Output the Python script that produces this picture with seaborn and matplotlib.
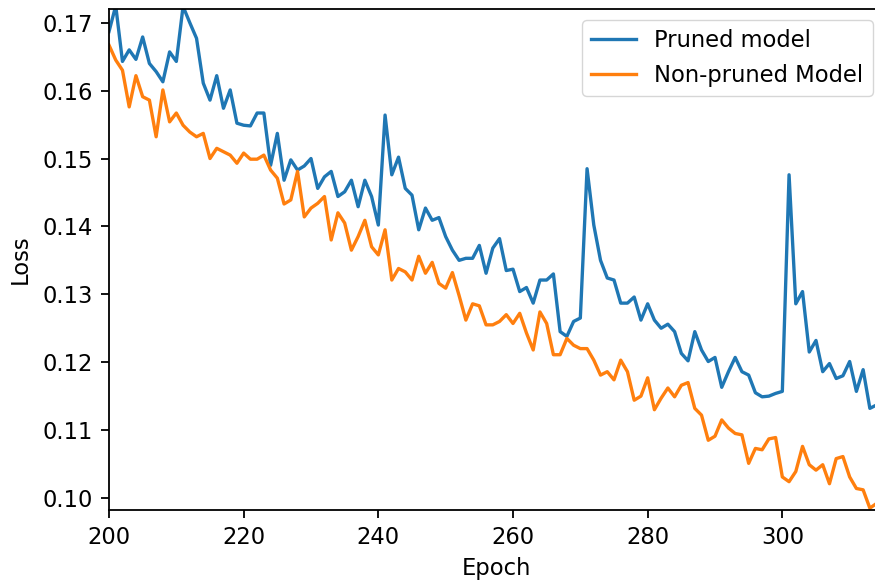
import numpy as np
import pandas as pd
import matplotlib
matplotlib.use("Agg")
import matplotlib.pyplot as plt
import seaborn as sns

# Loss per epoch, epochs 200..314
epochs = list(range(200, 315))

pruned_loss = [
    0.1687, 0.1725, 0.1643, 0.1660, 0.1646, 0.1679, 0.1640, 0.1628, 0.1613, 0.1657,
    0.1643, 0.1724, 0.1700, 0.1677, 0.1611, 0.1586, 0.1622, 0.1574, 0.1601, 0.1552,
    0.1549, 0.1548, 0.1567, 0.1567, 0.1490, 0.1537, 0.1468, 0.1498, 0.1483, 0.1489,
    0.1500, 0.1456, 0.1473, 0.1481, 0.1444, 0.1451, 0.1468, 0.1429, 0.1468, 0.1444,
    0.1402, 0.1564, 0.1476, 0.1502, 0.1456, 0.1446, 0.1395, 0.1427, 0.1409, 0.1413,
    0.1385, 0.1365, 0.1350, 0.1353, 0.1353, 0.1372, 0.1331, 0.1368, 0.1382, 0.1335,
    0.1337, 0.1304, 0.1310, 0.1287, 0.1321, 0.1321, 0.1330, 0.1245, 0.1238, 0.1260,
    0.1265, 0.1485, 0.1402, 0.1350, 0.1324, 0.1321, 0.1287, 0.1287, 0.1296, 0.1262,
    0.1286, 0.1262, 0.1250, 0.1256, 0.1245, 0.1213, 0.1202, 0.1245, 0.1218, 0.1201,
    0.1207, 0.1163, 0.1186, 0.1207, 0.1186, 0.1181, 0.1155, 0.1149, 0.1150, 0.1154,
    0.1157, 0.1476, 0.1286, 0.1304, 0.1215, 0.1232, 0.1186, 0.1198, 0.1176, 0.1180,
    0.1201, 0.1157, 0.1189, 0.1132, 0.1137,
]

baseline_loss = [
    0.1667, 0.1645, 0.1630, 0.1576, 0.1622, 0.1591, 0.1586, 0.1532, 0.1601, 0.1554,
    0.1567, 0.1549, 0.1539, 0.1532, 0.1537, 0.1500, 0.1515, 0.1510, 0.1505, 0.1493,
    0.1508, 0.1499, 0.1499, 0.1505, 0.1483, 0.1471, 0.1433, 0.1439, 0.1481, 0.1414,
    0.1427, 0.1434, 0.1444, 0.1380, 0.1420, 0.1405, 0.1365, 0.1385, 0.1409, 0.1370,
    0.1358, 0.1395, 0.1321, 0.1338, 0.1333, 0.1321, 0.1356, 0.1331, 0.1347, 0.1316,
    0.1309, 0.1332, 0.1298, 0.1262, 0.1286, 0.1283, 0.1255, 0.1255, 0.1260, 0.1270,
    0.1257, 0.1272, 0.1243, 0.1218, 0.1274, 0.1257, 0.1211, 0.1211, 0.1235, 0.1225,
    0.1220, 0.1220, 0.1203, 0.1181, 0.1186, 0.1174, 0.1203, 0.1186, 0.1144, 0.1150,
    0.1177, 0.1130, 0.1147, 0.1162, 0.1149, 0.1166, 0.1170, 0.1132, 0.1122, 0.1085,
    0.1091, 0.1115, 0.1103, 0.1095, 0.1093, 0.1051, 0.1073, 0.1071, 0.1087, 0.1089,
    0.1031, 0.1024, 0.1039, 0.1076, 0.1049, 0.1041, 0.1049, 0.1021, 0.1058, 0.1061,
    0.1031, 0.1014, 0.1012, 0.0985, 0.0992,
]

series_labels = ["Pruned model", "Non-pruned Model"]
series_colors = ["#1f77b4", "#ff7f0e"]
y_ticks = [0.10, 0.11, 0.12, 0.13, 0.14, 0.15, 0.16, 0.17]
x_ticks = [200, 220, 240, 260, 280, 300]

df = pd.DataFrame({
    "Epoch": epochs * 2,
    "Loss": pruned_loss + baseline_loss,
    "model": [series_labels[0]] * len(epochs) + [series_labels[1]] * len(epochs),
})

FS = 16.3
plt.rcParams.update({
    "font.family": "DejaVu Sans",
    "font.size": FS,
    "axes.linewidth": 1.3,
    "xtick.major.size": 5.7,
    "ytick.major.size": 5.7,
    "xtick.major.width": 1.3,
    "ytick.major.width": 1.3,
    "xtick.major.pad": 5.6,
    "ytick.major.pad": 5.6,
})

fig = plt.figure(figsize=(8.75, 5.82), dpi=100)
ax = fig.add_axes([109 / 875, 1 - 510 / 582, (884 - 109) / 875, (510 - 9) / 582])

sns.lineplot(data=df, x="Epoch", y="Loss", hue="model",
             hue_order=series_labels, palette=series_colors,
             linewidth=2.4, ax=ax)

ax.set_xlim(200, 315.1)
ax.set_ylim(0.09823, 0.17202)
ax.set_xticks(x_ticks)
ax.set_yticks(y_ticks)
ax.set_yticklabels([f"{v:.2f}" for v in y_ticks])
ax.set_xlabel("Epoch", fontsize=FS, labelpad=6.2)
ax.set_ylabel("Loss", fontsize=FS, labelpad=8.3)
ax.spines["right"].set_visible(False)

handles, labels = ax.get_legend_handles_labels()
ax.legend(handles, labels, loc="upper right", fontsize=FS, framealpha=0.8,
          edgecolor="#cccccc", fancybox=True)

fig.savefig("out.png", dpi=100)
